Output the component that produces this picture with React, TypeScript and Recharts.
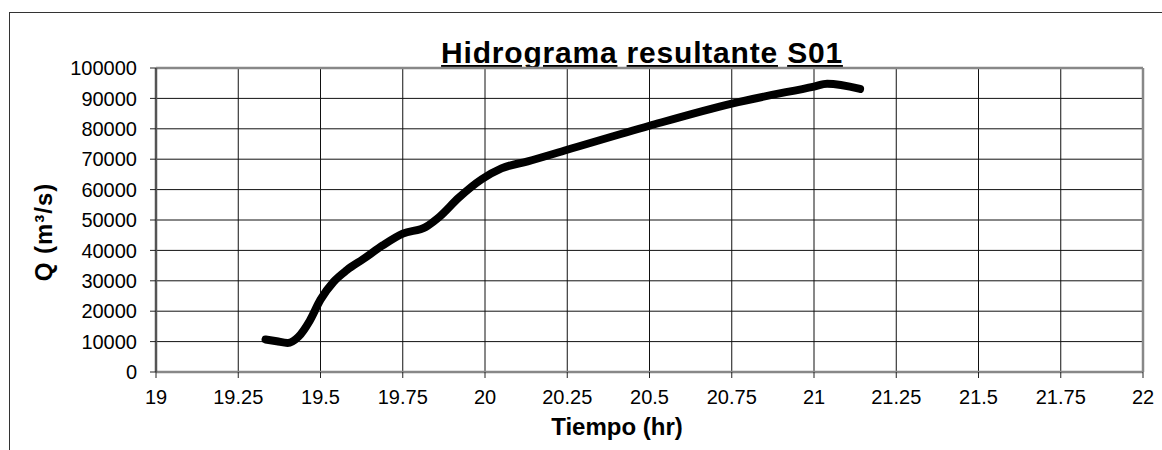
import { LineChart, Line, XAxis, YAxis, CartesianGrid, ReferenceLine } from 'recharts';

const tiempo = [
  19.333, 19.367, 19.4, 19.433, 19.467, 19.5, 19.54, 19.58, 19.63, 19.69, 19.75, 19.82,
  19.86, 19.92, 19.99, 20.05, 20.13, 20.25, 20.5, 20.75, 21.0, 21.04, 21.14,
];
const caudal = [
  10700, 10100, 9560, 11600, 16800, 23800, 29700, 33500, 37150, 41700, 45500, 47700,
  50900, 57300, 63400, 67000, 69300, 73100, 81000, 88300, 93900, 94800, 93100,
];
const xTicks = [19, 19.25, 19.5, 19.75, 20, 20.25, 20.5, 20.75, 21, 21.25, 21.5, 21.75, 22];
const yTicks = [0, 10000, 20000, 30000, 40000, 50000, 60000, 70000, 80000, 90000, 100000];

const data = tiempo.map((t, i) => ({ t, q: caudal[i] }));

const FONT = '"Liberation Sans", Arial, sans-serif';
const tickStyle = { fontSize: 20, fill: '#000', fontFamily: FONT };

export default function App() {
  return (
    <div style={{ position: 'absolute', left: 0, top: 0, width: 1162, height: 450, background: '#fff', overflow: 'hidden' }}>
      <div
        style={{
          position: 'absolute',
          left: 9,
          top: 12,
          width: 1200,
          height: 500,
          borderLeft: '1.5px solid #333',
          borderTop: '1.5px solid #333',
        }}
      />
      <div style={{ position: 'absolute', left: 0, top: 0 }}>
        <LineChart width={1162} height={450} data={data} margin={{ top: 68, right: 19, bottom: 0, left: 0 }}>
          <CartesianGrid stroke="#111" strokeWidth={1} />
          <XAxis
            dataKey="t"
            type="number"
            domain={[19, 22]}
            ticks={xTicks}
            height={78}
            tick={tickStyle}
            tickSize={6}
            tickMargin={12}
            axisLine={{ stroke: '#888', strokeWidth: 2.5 }}
            tickLine={{ stroke: '#222' }}
          />
          <YAxis
            type="number"
            domain={[0, 100000]}
            ticks={yTicks}
            width={156}
            tick={tickStyle}
            tickSize={6}
            tickMargin={13}
            axisLine={{ stroke: '#555', strokeWidth: 2.5 }}
            tickLine={{ stroke: '#222' }}
          />
          <ReferenceLine y={100000} stroke="#888" strokeWidth={2.5} />
          <ReferenceLine x={22} stroke="#888" strokeWidth={2.5} />
          <Line
            dataKey="q"
            type="monotone"
            stroke="#000"
            strokeWidth={8}
            strokeLinecap="round"
            dot={false}
            isAnimationActive={false}
          />
          <text x={642} y={63} textAnchor="middle" fontFamily={FONT} fontSize={30} fontWeight="bold" letterSpacing={0.8}>
            <tspan style={{ textDecoration: 'underline', textDecorationThickness: '4px' }}>Hidrograma</tspan>
            <tspan> </tspan>
            <tspan style={{ textDecoration: 'underline', textDecorationThickness: '4px' }}>resultante</tspan>
            <tspan> </tspan>
            <tspan style={{ textDecoration: 'underline', textDecorationThickness: '4px' }}>S01</tspan>
          </text>
          <text x={617} y={435} textAnchor="middle" fontFamily={FONT} fontSize={24} fontWeight="bold">
            Tiempo (hr)
          </text>
          <text
            x={43}
            y={232}
            transform="rotate(-90 43 232)"
            textAnchor="middle"
            dominantBaseline="central"
            fontFamily={FONT}
            fontSize={24}
            fontWeight="bold"
            letterSpacing={1}
          >
            Q (m³/s)
          </text>
        </LineChart>
      </div>
    </div>
  );
}
